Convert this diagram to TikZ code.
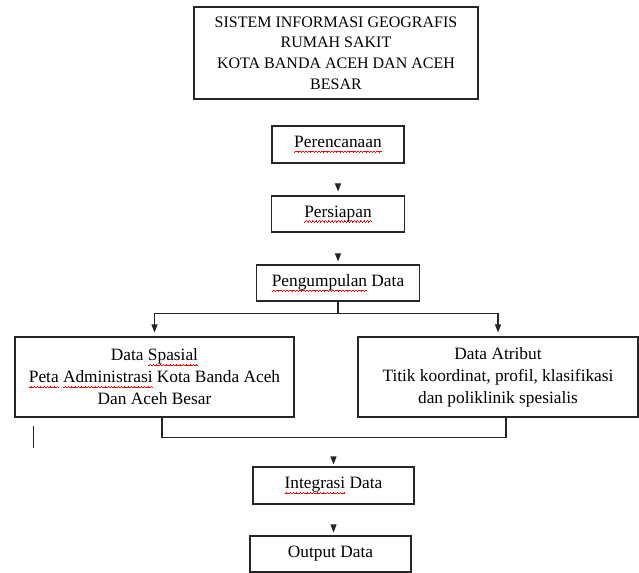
\documentclass[tikz,border=0pt]{standalone}
\usepackage{fontspec}
\setmainfont{Liberation Serif}
\usetikzlibrary{arrows.meta,positioning,calc}
%salah : soulignement ondule rouge sous un mot
\newcommand\salah[1]{\setbox0=\hbox{#1}\rlap{\color{red}\hbox to\wd0{\xleaders\hbox{\rule[-3.6pt]{0.6pt}{0.45pt}\rule[-3.2pt]{0.6pt}{0.45pt}\rule[-2.8pt]{0.6pt}{0.45pt}\rule[-3.2pt]{0.6pt}{0.45pt}}\hfill}}#1}

\begin{document}
\begin{tikzpicture}[x=0.75pt,y=-0.75pt,line width=0.8pt,draw=black!85]
%kotak : style des boites, panah : style des fleches
\tikzset{kotak/.style={draw,rectangle,inner sep=0pt,align=center,font=\fontsize{13}{16.5}\selectfont},
panah/.style={-{Triangle[length=6pt,width=4.5pt]}}}
\useasboundingbox (0,0) rectangle (639,573);
\node[kotak,minimum width=213pt,minimum height=69pt,font=\fontsize{12}{15.5}\selectfont] (judul) at (336,53) {SISTEM INFORMASI GEOGRAFIS\\RUMAH SAKIT\\KOTA BANDA ACEH DAN ACEH\\BESAR};
\node[kotak,minimum width=99pt,minimum height=27.75pt] (rencana) at (338,144.5) {\salah{Perencanaan}};
\node[kotak,minimum width=99.75pt,minimum height=27pt] (siap) at (338,214) {\salah{Persiapan}};
\node[kotak,minimum width=122.25pt,minimum height=27pt] (kumpul) at (338,283) {\salah{Pengumpulan} Data};
\node[kotak,minimum width=209.25pt,minimum height=60pt] (spasial) at (154.5,377) {Data \salah{Spasial}\\\salah{Peta} \salah{Administrasi} Kota Banda Aceh\\Dan Aceh Besar};
\node[kotak,minimum width=210pt,minimum height=60pt] (atribut) at (498,377) {Data Atribut\\Titik koordinat, profil, klasifikasi\\dan poliklinik spesialis};
\node[kotak,minimum width=120.75pt,minimum height=27.75pt] (integrasi) at (333.5,485.5) {\salah{Integrasi} Data};
\node[kotak,minimum width=120.75pt,minimum height=27pt] (output) at (330.5,554) {Output Data};
%fleches entre les boites
\draw[panah,shorten <=15.75pt,shorten >=3pt] (rencana.south) -- (siap.north);
\draw[panah,shorten <=17.25pt,shorten >=2.25pt] (siap.south) -- (kumpul.north);
\draw (kumpul.south) -- ++(0,12) coordinate (cabang);
\draw[panah,shorten >=3pt] (cabang) -| (spasial.north);
\draw[panah,shorten >=3pt] (cabang) -| (atribut.north);
\draw ($(spasial.south)+(7.5,0)$) -- ++(0,20) coordinate (gabung) -- ($(atribut.south)+(8,20)$) -- ($(atribut.south)+(8,0)$);
\draw[panah,shorten <=15.75pt,shorten >=1.5pt] (gabung -| integrasi.north) -- (integrasi.north);
\draw[panah,shorten <=17.25pt,shorten >=2.25pt] (integrasi.south) -- (integrasi.south |- output.north);
\draw ($(spasial.south west)+(19,8)$) -- ++(0,22);
\end{tikzpicture}
\end{document}
